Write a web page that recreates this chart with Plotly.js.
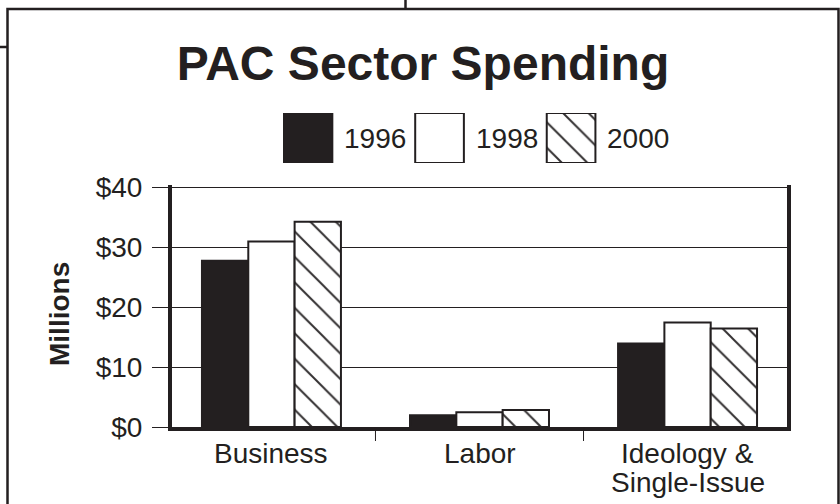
<!DOCTYPE html>
<html>
<head>
<meta charset="utf-8">
<script src="https://cdn.plot.ly/plotly-3.0.1.min.js"></script>
<style>html,body{margin:0;padding:0;background:#fff;}#chart{width:840px;height:504px;}</style>
</head>
<body>
<div id="chart"></div>
<script>
// ---- data ----
const categories = ['Business', 'Labor', 'Ideology &<br>Single-Issue'];
const years = ['1996', '1998', '2000'];
const spend1996 = [27.7, 1.95, 13.9];
const spend1998 = [30.9, 2.45, 17.4];
const spend2000 = [34.2, 2.85, 16.4];
const yTickVals = [0, 10, 20, 30, 40];
const yTickText = ['$0', '$10', '$20', '$30', '$40'];

// ---- styles ----
const INK = '#231f20';
const FONT = 'Liberation Sans, Arial, Helvetica, sans-serif';
const W = 840, H = 504;
const seriesValues = [spend1996, spend1998, spend2000];
const hatch = {shape: '\\', fgcolor: '#333031', bgcolor: '#ffffff', size: 18, solidity: 0.11};
const seriesStyle = [
  {color: INK, pattern: {shape: ''}},
  {color: '#ffffff', pattern: {shape: ''}},
  {color: '#ffffff', pattern: hatch}
];
const catIdx = categories.map((c, i) => i);

const traces = years.map((y, i) => ({
  type: 'bar',
  name: y,
  x: catIdx,
  y: seriesValues[i],
  marker: {color: seriesStyle[i].color, pattern: seriesStyle[i].pattern, line: {color: INK, width: 2}},
  showlegend: false,
  hoverinfo: 'y'
}));

// custom large legend swatches on their own small axis
years.forEach((y, i) => {
  traces.push({
    type: 'bar',
    name: y + ' key',
    x: [i],
    y: [1],
    xaxis: 'x2', yaxis: 'y2',
    width: 0.37,
    offsetgroup: 'key',
    marker: {color: seriesStyle[i].color, pattern: seriesStyle[i].pattern, line: {color: INK, width: 2}},
    showlegend: false,
    hoverinfo: 'skip'
  });
});

const annotations = years.map((y, i) => ({
  xref: 'x2', yref: 'y2', x: i + 0.26, y: 0.5,
  text: y, showarrow: false, xanchor: 'left', yanchor: 'middle',
  font: {family: FONT, size: 28, color: INK}
}));
annotations.push({
  xref: 'paper', yref: 'paper', x: 59 / W, y: 1 - 314 / H,
  text: 'Millions', textangle: -90, showarrow: false,
  xanchor: 'center', yanchor: 'middle',
  font: {family: FONT, size: 28, color: INK, weight: 'bold'}
});
// category labels (one annotation per line, for tight line spacing)
categories.forEach((c, i) => {
  c.split('<br>').forEach((line, k) => {
    annotations.push({
      xref: 'x', yref: 'paper', x: i, y: 77 / H,
      yshift: -(26 + 29 * k),
      text: line, showarrow: false, xanchor: 'center', yanchor: 'middle',
      font: {family: FONT, size: 28, color: INK}
    });
  });
});

const shapes = [
  {type: 'rect', xref: 'paper', yref: 'paper', x0: 7.5 / W, x1: 838.5 / W, y0: -0.05, y1: 1 - 9 / H,
   line: {color: INK, width: 2.5}, fillcolor: 'rgba(0,0,0,0)'},
  {type: 'line', xref: 'paper', yref: 'paper', x0: 0, x1: 7.5 / W, y0: 1 - 47 / H, y1: 1 - 47 / H,
   line: {color: INK, width: 2.5}},
  {type: 'line', xref: 'paper', yref: 'paper', x0: 405.5 / W, x1: 405.5 / W, y0: 1 - 9 / H, y1: 1.02,
   line: {color: INK, width: 2.5}}
];
// category divider ticks below the x axis
categories.slice(1).forEach((c, i) => {
  shapes.push({type: 'line', xref: 'x', yref: 'paper', x0: i + 0.5, x1: i + 0.5,
    y0: 77 / H, y1: (H - 441) / H, line: {color: INK, width: 1}});
});

const layout = {
  width: W, height: H,
  margin: {l: 0, r: 0, t: 0, b: 0},
  paper_bgcolor: '#ffffff', plot_bgcolor: '#ffffff',
  font: {family: FONT, color: INK},
  title: {
    text: 'PAC Sector Spending',
    font: {family: FONT, size: 48, color: INK, weight: 'bold'},
    x: 423 / W, xref: 'paper', xanchor: 'center',
    y: 1 - 63 / H, yref: 'container', yanchor: 'middle'
  },
  barmode: 'group',
  bargap: 0.332,
  bargroupgap: 0,
  xaxis: {
    domain: [172 / W, 787 / W],
    range: [-0.478, 2.478],
    tickvals: catIdx, showticklabels: false,
    ticks: '', showgrid: false, zeroline: false,
    showline: true, linewidth: 4, linecolor: INK,
    fixedrange: true
  },
  yaxis: {
    domain: [77 / H, (H - 185.2) / H],
    range: [0, 40.3],
    tickvals: yTickVals, ticktext: yTickText,
    ticks: 'outside', ticklen: 16, tickwidth: 1, tickcolor: INK,
    ticklabelstandoff: 4,
    showgrid: true, gridcolor: INK, gridwidth: 1,
    showline: true, linewidth: 4, linecolor: INK, mirror: true,
    zeroline: false,
    tickfont: {family: FONT, size: 28, color: INK},
    fixedrange: true
  },
  xaxis2: {domain: [283 / W, 700 / W], range: [-0.19, 2.98], anchor: 'y2', visible: false, fixedrange: true},
  yaxis2: {domain: [(H - 163) / H, (H - 113) / H], range: [0, 1], anchor: 'x2', visible: false, fixedrange: true},
  annotations: annotations,
  shapes: shapes,
  showlegend: false
};

Plotly.newPlot('chart', traces, layout, {displayModeBar: false, staticPlot: true});
</script>
</body>
</html>
